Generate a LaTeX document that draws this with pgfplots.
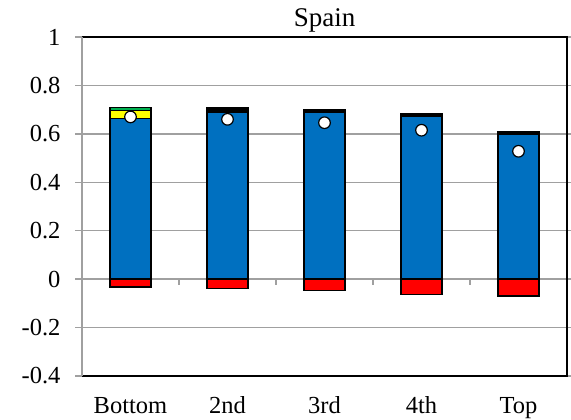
\documentclass[border=0pt]{standalone}
\usepackage{pgfplots}
\usepackage{pgfplotstable}
\pgfplotsset{compat=1.18}
\usepackage{fontspec}
\setmainfont{Liberation Serif}
\definecolor{xblue}{HTML}{0070C0}
\definecolor{xred}{HTML}{FF0000}
\definecolor{xyellow}{HTML}{FFFF00}
\definecolor{xgreen}{HTML}{00B050}
\definecolor{gridgray}{HTML}{A0A0A0}
\pgfplotstableread{
x blue yellow green black red dot
0 0.664 0.033 0.013 0.000 -0.033 0.670
1 0.690 0.000 0.000 0.017 -0.040 0.660
2 0.688 0.000 0.000 0.012 -0.047 0.646
3 0.672 0.000 0.000 0.013 -0.062 0.615
4 0.598 0.000 0.000 0.013 -0.070 0.528
}\data
\pgfplotsset{
  base/.style={scale only axis, width=485pt, height=339pt,
    xmin=-0.5, xmax=4.5, ymin=-0.4, ymax=1,
    axis line style={draw=none}, clip=false},
  seg/.style={draw=black, line width=1.3pt, fill=#1}
}
\begin{document}
\begin{tikzpicture}[font=\fontsize{24.5}{28}\selectfont]
\begin{axis}[base, ybar stacked, bar width=0.42,
  ytick={-0.4,-0.2,0,0.2,0.4,0.6,0.8,1},
  yticklabels={-0.4,-0.2,0,0.2,0.4,0.6,0.8,1},
  ymajorgrids, grid style={gridgray, line width=1.3pt},
  xtick={0,1,2,3,4}, xticklabels={Bottom,2nd,3rd,4th,Top},
  xtick style={draw=none}, ytick style={gridgray, line width=1.3pt},
  tick align=outside, major tick length=7pt,
  xticklabel style={anchor=base, yshift=-30pt},
  yticklabel style={anchor=east, xshift=-11pt},
  title={Spain},
  title style={at={(0.5,1)}, anchor=base, yshift=4pt, font=\fontsize{27}{30}\selectfont},
]
\addplot[seg=xblue] table[x=x, y=blue] {\data};
\addplot[seg=xyellow] table[x=x, y=yellow] {\data};
\addplot[seg=xgreen] table[x=x, y=green] {\data};
\addplot[seg=black] table[x=x, y=black] {\data};
\end{axis}
\begin{axis}[base, hide axis]
\addplot[ybar, bar width=0.42, seg=xred] table[x=x, y=red] {\data};
\addplot[only marks, mark=*, mark size=5.8pt, mark options={fill=white, draw=black, line width=1.2pt}] table[x=x, y=dot] {\data};
\foreach \t in {0.5,1.5,2.5,3.5} {
  \edef\tmp{\noexpand\draw[gridgray, line width=1.3pt] (axis cs:\t,0) -- (axis cs:\t,-0.024);}
  \tmp
}
\end{axis}
\draw[black, line width=1.5pt] (current axis.north west) -- (current axis.north east) -- (current axis.south east) -- (current axis.south west);
\draw[gridgray, line width=1.5pt] (current axis.south west) -- (current axis.north west);
\pgfresetboundingbox
\path ([shift={(-82pt,-43pt)}]current axis.south west) rectangle ([shift={(4pt,37pt)}]current axis.north east);
\end{tikzpicture}
\end{document}
